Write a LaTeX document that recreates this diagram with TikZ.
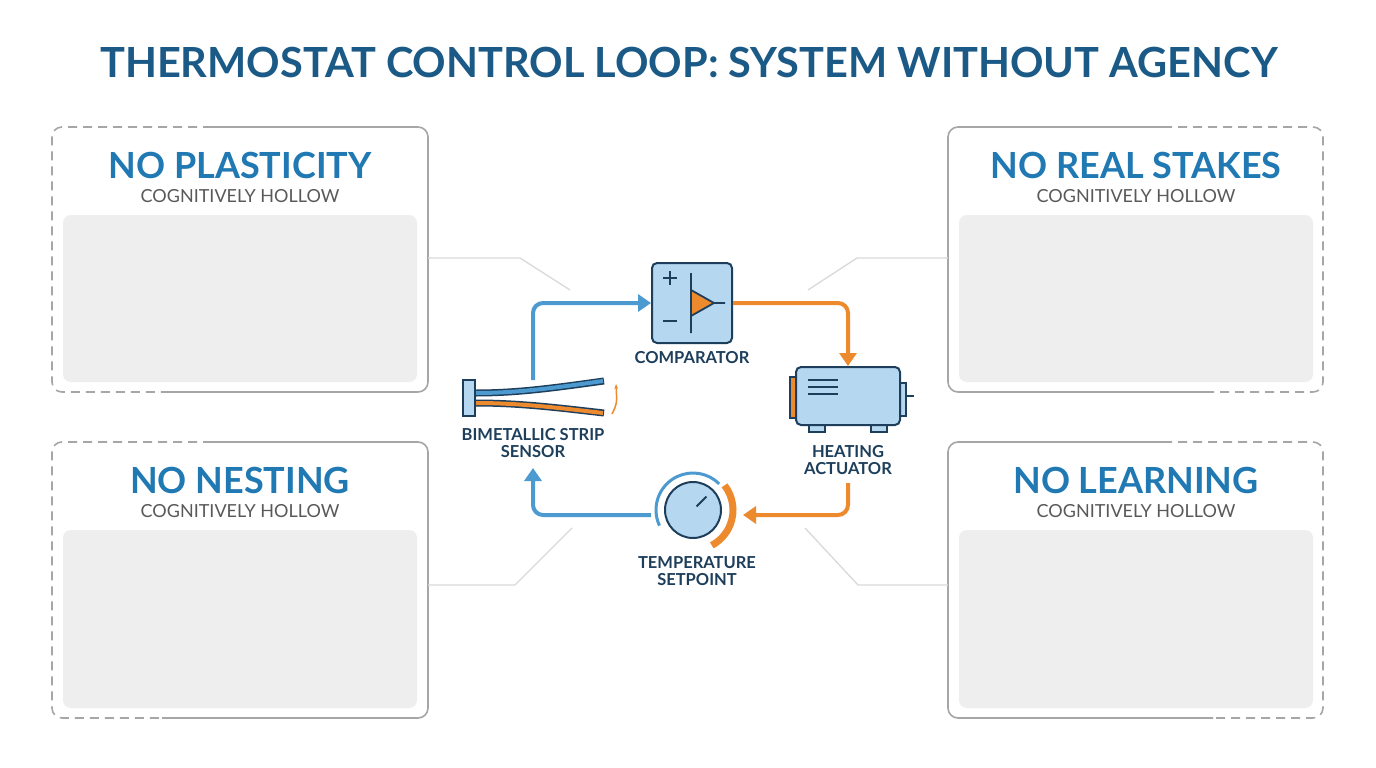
\documentclass[tikz,border=0pt]{standalone}
\usepackage{fontspec}
\setmainfont{Lato}
\usetikzlibrary{arrows.meta,calc}
\definecolor{ttl}{HTML}{1B5A86}
\definecolor{hd}{HTML}{2079B3}
\definecolor{bl}{HTML}{4D9AD0}
\definecolor{lb}{HTML}{B5D7EF}
\definecolor{dk}{HTML}{1E3F5C}
\definecolor{og}{HTML}{EE8A2E}
\definecolor{gb}{HTML}{A6A6A6}
\definecolor{gf}{HTML}{EEEEEE}
\tikzset{
 panel/.style={draw=gb,line width=1.6pt,rounded corners=10pt},
 dpanel/.style={panel,dash pattern=on 9pt off 6pt},
 inner/.style={fill=gf,rounded corners=8pt},
 ptitle/.style={text=hd,font=\fontsize{36}{36}\selectfont\bfseries},
 psub/.style={text=black!65,font=\fontsize{18}{18}\selectfont},
 link/.style={draw=black!15,line width=1.3pt},
 lbl/.style={text=dk,font=\fontsize{16.5}{17}\selectfont\bfseries,align=center},
 part/.style={draw=dk,line width=1.3pt,fill=lb},
 barrow/.style={draw=bl,line width=4pt,rounded corners=10pt,-{Triangle[length=13pt,width=17pt]}},
 oarrow/.style={draw=og,line width=4pt,rounded corners=10pt,-{Triangle[length=13pt,width=17pt]}},
}
\begin{document}
\begin{tikzpicture}[x=1pt,y=-1pt]
\useasboundingbox[fill=white] (0,0) rectangle (1376,768);
\node[text=ttl,font=\fontsize{41.5}{42}\selectfont\bfseries] (title) at (689,62) {THERMOSTAT CONTROL LOOP: SYSTEM WITHOUT AGENCY};
% panels
\foreach \n/\x/\y/\h/\t/\s in {a/52/127/265/NO PLASTICITY/1,b/52/442/276/NO NESTING/1,c/948/127/265/NO REAL STAKES/-1,d/948/442/276/NO LEARNING/-1}{
  \ifnum\s=1
   \draw[panel] (\x+160,\y) -- (\x+376,\y) -- (\x+376,\y+\h) -- (\x+110,\y+\h);
   \draw[dpanel] (\x+160,\y) -- (\x,\y) -- (\x,\y+\h) -- (\x+110,\y+\h);
  \else
   \draw[panel] (\x+215,\y) -- (\x,\y) -- (\x,\y+\h) -- (\x+265,\y+\h);
   \draw[dpanel] (\x+215,\y) -- (\x+375,\y) -- (\x+375,\y+\h) -- (\x+265,\y+\h);
  \fi
  \fill[inner] (\x+11,\y+88) rectangle (\x+365,\y+\h-10);
  \node[ptitle] (\n t) at (\x+188,\y+38) {\t};
  \node[psub] (\n s) at (\x+188,\y+69) {COGNITIVELY HOLLOW};
}
\draw[link] (428,258) -- (520,258) -- (570,290);
\draw[link] (948,258) -- (857,258) -- (808,290);
\draw[link] (428,585) -- (515,585) -- (572,528);
\draw[link] (948,585) -- (858,585) -- (805,528);
% comparator
\node[draw=dk,line width=2pt,fill=lb,rounded corners=5pt,minimum width=80pt,minimum height=80pt] (comp) at (692,303) {};
\draw[dk,line width=1.8pt] (663,278)--(677,278) (670,271)--(670,285) (663,321)--(677,321);
\fill[og] (691,290) -- (714,303) -- (691,316) -- cycle;
\draw[dk,line width=1.8pt] (691,273)--(691,333) (691,290)--(714,303)--(691,316) (714,303)--(725,303);
\node[lbl] (compl) at (692,358) {COMPARATOR};
% heater
\draw[part,fill=og] (790,377) rectangle (798,418);
\draw[part] (899,383) rectangle (906,416);
\draw[dk,line width=1.5pt] (906,396)--(914,396);
\draw[part] (809,422) rectangle (825,432); \draw[part] (871,422) rectangle (887,432);
\node[draw=dk,line width=2pt,fill=lb,rounded corners=5pt,minimum width=104pt,minimum height=58pt] (heat) at (848,396) {};
\draw[dk,line width=1.5pt] (808,380)--(838,380) (808,387)--(838,387) (808,394)--(838,394);
\node[lbl] (heatl) at (848,460) {HEATING\\ACTUATOR};
% dial
\coordinate (dial) at (693,510);
\draw[bl,line width=3pt] ($(dial)+(-205:37)$) arc[start angle=-205,end angle=-45,radius=37];
\draw[og,line width=7pt] ($(dial)+(-38:40)$) arc[start angle=-38,end angle=62,radius=40];
\node[circle,draw=dk,line width=2pt,fill=lb,minimum size=56pt,inner sep=0] (dialc) at (dial) {};
\draw[dk,line width=1.8pt] ($(dial)+(-45:5)$) -- ($(dial)+(-45:19)$);
\node[lbl] (diall) at (697,571) {TEMPERATURE\\SETPOINT};
% sensor
\draw[dk,line width=7pt] (476,403) .. controls (520,403) and (560,408) .. (604,413);
\draw[og,line width=4pt] (476,403) .. controls (520,403) and (560,408) .. (603,413);
\draw[dk,line width=7pt] (476,393) .. controls (520,393) and (560,387) .. (604,381);
\draw[bl,line width=4pt] (476,393) .. controls (520,393) and (560,387) .. (603,381);
\node[draw=dk,line width=1.5pt,fill=lb,minimum width=12pt,minimum height=36pt,inner sep=0] (sens) at (469,398) {};
\draw[og,line width=1.5pt,-{Stealth[length=5pt]}] (612,414) .. controls (617,404) .. (616,384);
\node[lbl] (sensl) at (533,443) {BIMETALLIC STRIP\\SENSOR};
% loop arrows
\draw[barrow] (533,380) -- (533,303) -- (comp.west);
\draw[oarrow] (comp.east) -- (848,303) -- (heat.north);
\draw[oarrow] (848,483) -- (848,515) -- (743,515);
\draw[barrow] (651,515) -- (533,515) -- (533,468);
\end{tikzpicture}
\end{document}
